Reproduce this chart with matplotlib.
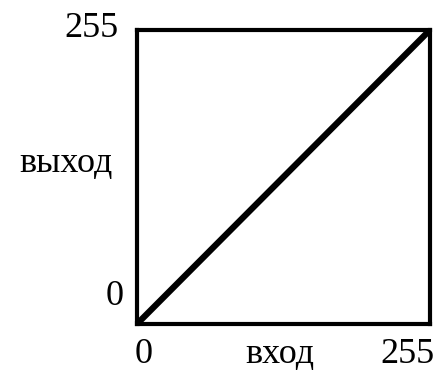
import matplotlib
matplotlib.use("Agg")
import matplotlib.pyplot as plt

# transfer curve: identity mapping
x_in = [0, 255]
y_out = [0, 255]
axis_min = 0
axis_max = 255
x_label = "вход"
y_label = "выход"

plt.rcParams["font.family"] = ["Liberation Serif", "DejaVu Serif"]

fig = plt.figure(figsize=(4.39, 3.72), dpi=100)
ax = fig.add_axes([0.312, 0.129, 0.667, 0.790])

ax.plot(x_in, y_out, color="black", lw=4.5, solid_capstyle="butt", clip_on=False)
ax.set_xlim(axis_min, axis_max)
ax.set_ylim(axis_min, axis_max)
ax.set_xticks([])
ax.set_yticks([])
for s in ax.spines.values():
    s.set_linewidth(3)
    s.set_color("black")

fs = 26
tr = ax.transAxes
ax.text(-0.154, 0.976, str(axis_max), transform=tr, ha="center", va="baseline", fontsize=fs)
ax.text(-0.078, 0.065, str(axis_min), transform=tr, ha="center", va="baseline", fontsize=fs)
ax.text(0.024, -0.134, str(axis_min), transform=tr, ha="center", va="baseline", fontsize=fs)
ax.text(0.925, -0.134, str(axis_max), transform=tr, ha="center", va="baseline", fontsize=fs)
ax.text(0.488, -0.134, x_label, transform=tr, ha="center", va="baseline", fontsize=fs)
ax.text(-0.242, 0.517, y_label, transform=tr, ha="center", va="baseline", fontsize=fs)

fig.savefig("out.png", dpi=100)
